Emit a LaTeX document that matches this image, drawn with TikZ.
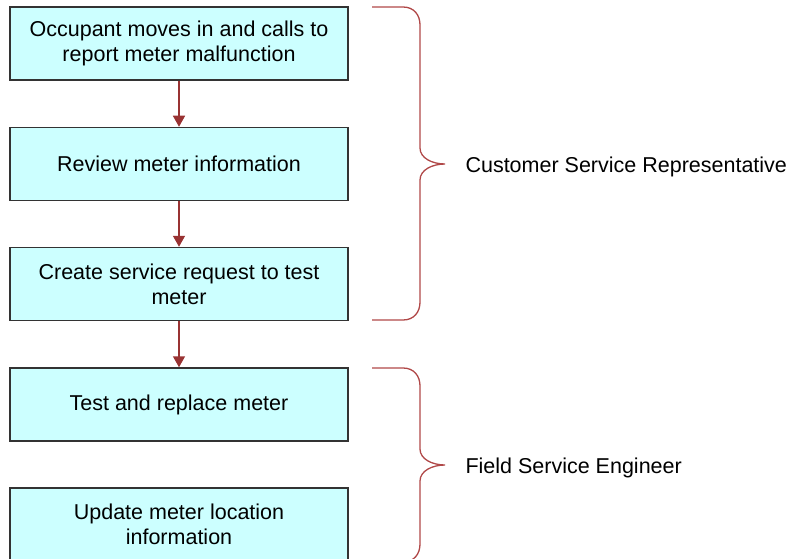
\documentclass[tikz,border=0pt]{standalone}
\usepackage{fontspec}
\setmainfont{Liberation Sans}
\usetikzlibrary{arrows.meta}
\definecolor{boxfill}{HTML}{CCFFFF}
\definecolor{boxline}{HTML}{333333}
\definecolor{flowred}{HTML}{993333}
\definecolor{bracered}{HTML}{B04848}
\tikzset{
    task/.style={rectangle, draw=boxline, fill=boxfill, line width=1.5pt,
        minimum width=338pt, minimum height=73pt, align=center,
        font=\fontsize{21.5}{25}\selectfont},
    flow/.style={draw=flowred, line width=1.5pt,
        -{Triangle[width=12pt,length=11pt]}},
    brace/.style={draw=bracered, line width=1.3pt},
    role/.style={anchor=west, font=\fontsize{21.5}{25}\selectfont}
}
\begin{document}
\begin{tikzpicture}[x=1pt,y=-1pt]
                \useasboundingbox (0,0) rectangle (792,559);
                \clip (0,0) rectangle (792,559);
                \node[task] (occupant) at (179,43.5) {Occupant moves in and calls to\\report meter malfunction};
                \node[task] (review) at (179,164) {Review meter information};
                \node[task] (request) at (179,284) {Create service request to test\\meter};
                \node[task] (test) at (179,404.5) {Test and replace meter};
                \node[task] (update) at (179,524.5) {Update meter location\\information};
                \draw[flow] (occupant) -- (review);
                \draw[flow] (review) -- (request);
                \draw[flow] (request) -- (test);
                \foreach \t/\m/\b/\r/\lbl in {7/164/320/csr/Customer Service Representative,368/465/562/fse/Field Service Engineer}
                {
                    \draw[brace] (372,\t) -- (403,\t) .. controls (414,\t) and (420,{\t+8}) .. (420,{\t+18})
                        -- (420,{\m-16}) .. controls (420,{\m-6}) and (432,\m) .. (445,\m)
                        .. controls (432,\m) and (420,{\m+6}) .. (420,{\m+16})
                        -- (420,{\b-18}) .. controls (420,{\b-8}) and (414,\b) .. (403,\b) -- (372,\b);
                    \node[role] (\r) at (462,{\m+3}) {\lbl};
                }
            \end{tikzpicture}
\end{document}
